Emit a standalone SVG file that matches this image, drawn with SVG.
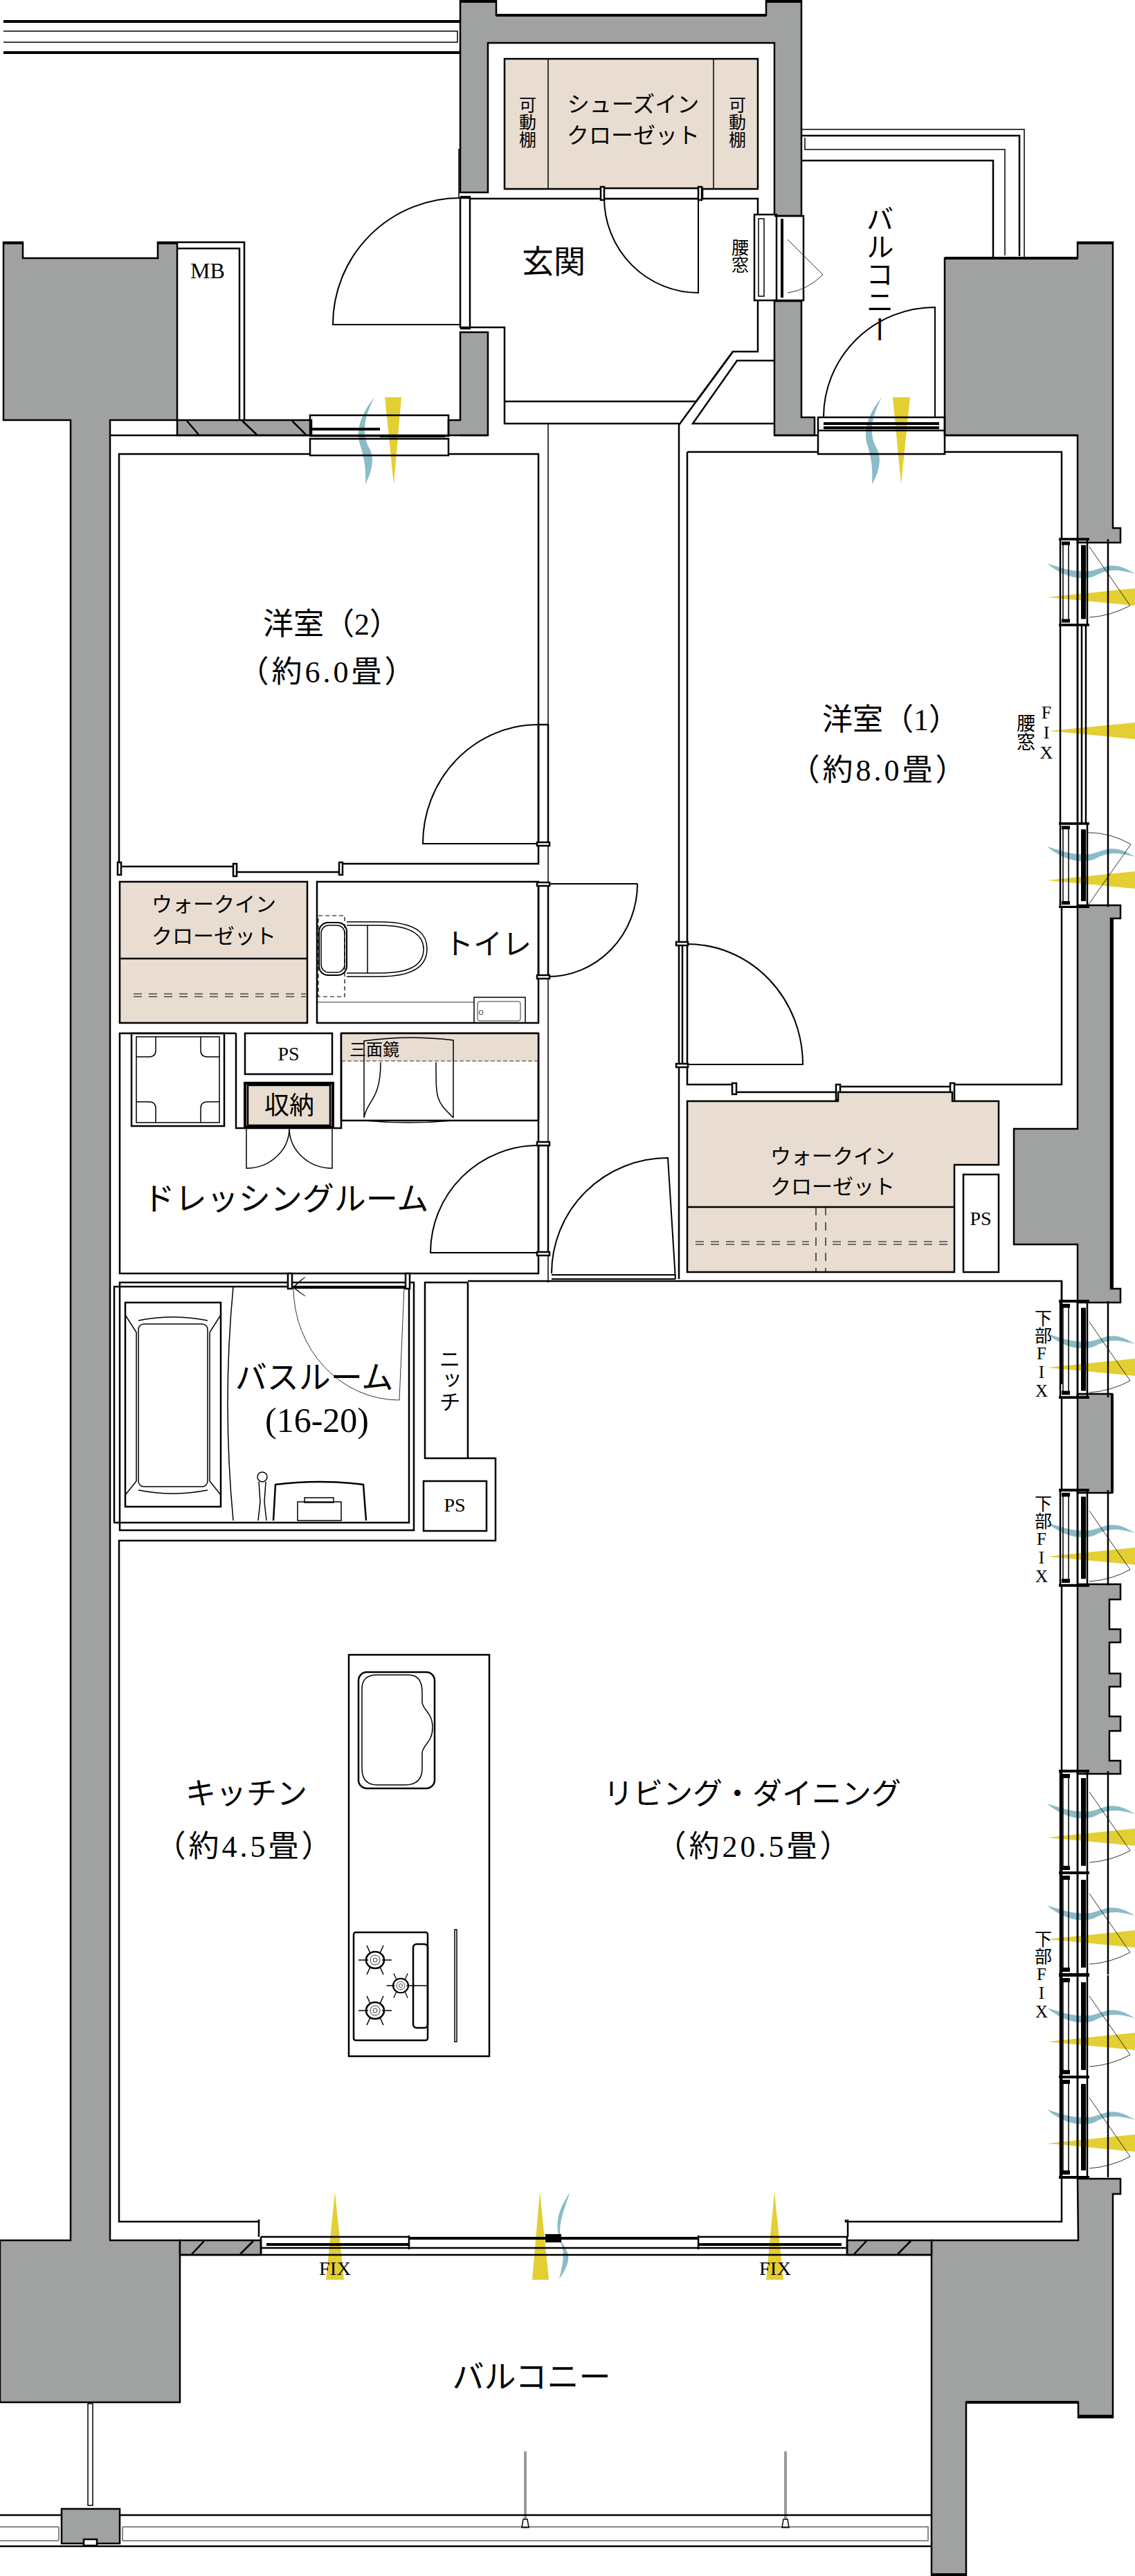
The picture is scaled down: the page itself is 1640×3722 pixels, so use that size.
<svg xmlns="http://www.w3.org/2000/svg" width="1640" height="3722" viewBox="0 0 1640 3722">
<style>
text{font-family:"Liberation Serif","Noto Sans CJK JP",serif;fill:#000;text-anchor:middle}
.v{writing-mode:vertical-rl;text-orientation:upright}
.g{fill:#a0a2a1;stroke:#000;stroke-width:2.5}
.c{fill:#e8ddd0;stroke:#000;stroke-width:2.5}
.w{fill:none;stroke:#000;stroke-width:2.5}
.k{fill:none;stroke:#000;stroke-width:4}
.m{fill:none;stroke:#000;stroke-width:1.5}
.t{fill:none;stroke:#000;stroke-width:.8}
.f{fill:#fff;stroke:#000;stroke-width:2.5}
.y{fill:#e3cf32}
.b{fill:#8abcc7}
.a{fill:none;stroke:#000;stroke-width:2}
.d{fill:none;stroke:#000;stroke-width:1.2;stroke-dasharray:12 10}
</style>
<defs>
<g id="flow">
<path class="b" d="M1513,47C1540,56 1555,60 1575,58C1595,55 1605,40 1640,62C1610,54 1600,56 1580,66C1560,72 1535,66 1513,47Z"/>
<path class="y" d="M1513,96L1640,83L1640,108Z"/>
</g>
<g id="win">
<rect class="w" x="1532" y="0" width="25" height="145"/>
<rect class="w" x="1557" y="0" width="14" height="145"/>
<rect x="1562" y="10" width="7" height="125" fill="#000"/>
<rect class="m" x="1536" y="8" width="8" height="129"/>
<rect x="1534" y="4" width="12" height="6" fill="#000"/>
<rect x="1534" y="135" width="12" height="6" fill="#000"/>
<path class="k" d="M1530,0H1574M1530,145H1574"/>
<path class="w" d="M1601,0V145"/>
</g>
<path id="swing" class="t" d="M1574,30L1633,115Q1605,130 1574,132"/>
<g id="burner">
<ellipse cx="0" cy="0" rx="13" ry="12" class="w"/>
<ellipse cx="0" cy="0" rx="7" ry="7" class="t"/>
<circle r="3" class="t"/>
<path class="m" d="M-24,0H-10M10,0H24M-12,-21L-7,-10M12,-21L7,-10M-12,21L-7,10M12,21L7,10"/>
</g>
</defs>

<g id="connectors"></g>

<g id="walls">
<polygon class="g" points="665,0 717,0 717,22 1107,22 1107,0 1158,0 1158,312 1119,312 1119,62 705,62 705,278 665,278"/>
<path class="k" d="M665,2H717M1107,2H1158M717,22H1107"/>
<polygon class="g" points="1119,435 1158,435 1158,603 1177,603 1177,629 1119,629"/>
<polygon class="g" points="665,480 705,480 705,629 648,629 648,607 665,607"/>
<polygon class="g" points="256,607 353,607 450,607 450,629 256,629"/>
<polygon class="g" points="5,350 33,350 33,373 228,373 228,350 256,350 256,607 159,607 159,3237 260,3237 260,3471 0,3471 0,3237 102,3237 102,607 5,607"/>
<path class="k" d="M5,351H33M228,351H256"/>
<polygon class="g" points="1365,373 1557,373 1557,350 1608,350 1608,763 1619,763 1619,784 1557,784 1557,629 1365,629"/>
<path class="k" d="M1557,351H1608M1365,373H1557"/>
<polygon class="g" points="1557,1308 1619,1308 1619,1327 1605,1327 1605,1862 1619,1862 1619,1882 1557,1882 1557,1798 1465,1798 1465,1631 1557,1631"/>
<polygon class="g" points="1557,2014 1607,2014 1607,2157 1557,2157"/>
<polygon class="g" points="1557,2289 1619,2289 1619,2311 1603,2311 1603,2354 1619,2354 1619,2373 1603,2373 1603,2418 1619,2418 1619,2437 1603,2437 1603,2480 1619,2480 1619,2501 1603,2501 1603,2544 1619,2544 1619,2563 1557,2563"/>
<polygon class="g" points="1557,3148 1619,3148 1619,3170 1608,3170 1608,3493 1558,3493 1558,3471 1396,3471 1396,3722 1346,3722 1346,3237 1558,3237"/>
<path class="k" d="M1396,3471H1558M1558,3491H1608M1346,3720H1396"/>
<path class="k" d="M1607,1327V1862M1607,2014V2157"/>
<polygon class="g" points="260,3237 377,3237 377,3258 260,3258"/>
<polygon class="g" points="1224,3237 1346,3237 1346,3258 1224,3258"/>
<path class="w" d="M277,3257L295,3238M347,3257L366,3238M1234,3257L1252,3238M1297,3257L1316,3238M270,608L287,628M350,608L371,628M422,608L442,628"/>
</g>

<g id="flows">
<use href="#flow" y="767"/>
<use href="#flow" y="1176"/>
<path class="y" d="M1516,1056L1640,1044L1640,1068Z"/>
<use href="#flow" y="1880"/>
<use href="#flow" y="2153"/>
<use href="#flow" y="2559"/>
<use href="#flow" y="2706"/>
<use href="#flow" y="2854"/>
<use href="#flow" y="3001"/>
<path class="y" d="M556,574H580L569,700Z"/>
<path class="b" d="M541,574C528,600 520,625 535,650C542,668 535,685 528,700C529,680 527,665 521,645C512,620 524,595 541,574Z"/>
<path class="y" d="M1290,574H1315L1302,700Z"/>
<path class="b" d="M1274,574C1261,600 1253,625 1268,650C1275,668 1268,685 1260,700C1261,680 1260,665 1254,645C1245,620 1257,595 1274,574Z"/>
<path class="y" d="M484,3167L497,3294H471Z"/>
<path class="y" d="M780,3167L793,3294H769Z"/>
<path class="y" d="M1119,3167L1132,3294H1107Z"/>
<path class="b" d="M824,3167C812,3200 805,3220 812,3240C822,3255 828,3265 808,3293C815,3265 815,3255 812,3245C800,3215 805,3195 824,3167Z"/>
</g>

<g id="linework">
<path class="k" d="M5,31H665M5,76H665"/>
<path class="m" d="M5,45H661V61H5"/>
<path class="m" d="M1158,187H1480V373"/>
<path class="w" d="M1158,196H1473V370"/>
<path class="m" d="M1163,199V216H1452V369"/>
<path class="w" d="M1158,232H1435V373"/>
<path class="w" d="M256,350H353V607M256,359H346V607"/>
<path class="m" d="M663,215V286"/>
<path class="w" d="M680,287H1095V508H1059L981,614V1848"/>
<path class="w" d="M680,473H729V612H981M729,580H1006"/>
<path class="w" d="M1059,508L1006,580"/>
<path class="w" d="M1119,521H1065L1001,612H1119"/>
<path class="w" d="M705,629H665M159,629H450M648,629H450"/>
<path class="w" d="M1365,629H1558M1119,629H1182"/>
<path class="m" d="M792,612V1853"/>
</g>

<g id="shoe-closet">
<rect class="c" x="729" y="85" width="366" height="188"/>
<path class="m" d="M792,85V273M1031,85V273"/>
<rect class="f" x="869" y="272" width="146" height="15"/>
<rect class="f" x="868" y="270" width="5" height="19"/>
<rect class="f" x="1009" y="270" width="5" height="19"/>
<text x="915" y="162" font-size="32">シューズイン</text>
<text x="915" y="207" font-size="32">クローゼット</text>
<text class="v" x="760" y="176" font-size="25">可動棚</text>
<text class="v" x="1063" y="176" font-size="25">可動棚</text>
</g>

<g id="entry">
<rect class="w" x="665" y="286" width="14" height="187"/>
<path class="k" d="M665,285H680M665,474H680"/>
<path class="a" d="M665,286A184,183 0 0 0 481,469H665"/>
<path class="a" d="M873,286A136,137 0 0 0 1009,423V286"/>
<text x="800" y="394" font-size="46">玄関</text>
<text x="1067" y="370" class="v" font-size="25">腰窓</text>
<rect class="f" x="1090" y="310" width="32" height="124"/>
<rect class="m" x="1096" y="316" width="8" height="112"/>
<path class="k" d="M1130,316V430"/>
<path class="w" d="M1119,312H1161V434H1119"/>
<path class="t" d="M1138,346L1189,397Q1165,420 1138,423"/>
<text x="275" y="402" style="text-anchor:start" font-size="32">MB</text>
</g>

<g id="balcony-top">
<path class="a" d="M1351,603V444A161,159 0 0 0 1190,603"/>
<rect class="w" x="1182" y="603" width="183" height="53"/>
<path class="k" d="M1190,612H1357M1190,618H1357"/>
<text class="v" x="1268" y="396" font-size="40">バルコニー</text>
<path class="w" d="M1182,622H1365"/>
</g>

<g id="room-2">
<path class="w" d="M448,656H172V1252H339M648,656H778V1219"/>
<path class="w" d="M342,1260H492M492,1248H778V1219"/>
<rect class="f" x="170" y="1246" width="5" height="18"/><rect class="f" x="337" y="1248" width="5" height="18"/><rect class="f" x="490" y="1246" width="5" height="18"/>
<path class="a" d="M778,1047A167,172 0 0 0 611,1219H778"/>
<rect class="w" x="778" y="1047" width="14" height="172"/>
<text x="479" y="917" font-size="44">洋室（2）</text>
<text x="474" y="986" font-size="44" letter-spacing="4">（約6.0畳）</text>
</g>

<g id="window-2">
<rect class="w" x="448" y="600" width="200" height="30"/>
<path class="k" d="M450,620H549M549,630H643"/>
<rect class="w" x="448" y="634" width="200" height="24"/>
</g>

<g id="room-1">
<path class="w" d="M993,653V1567H1060M1182,653H993M1365,653H1534V779M1534,1310V1567H1376"/>
<path class="w" d="M1060,1578H1211M1211,1570H1376"/>
<rect class="f" x="1058" y="1565" width="6" height="16"/><rect class="f" x="1208" y="1567" width="6" height="22"/><rect class="f" x="1373" y="1565" width="6" height="26"/>
<path class="a" d="M993,1364A167,174 0 0 1 1160,1538H993"/>
<path class="w" d="M986,1364V1538"/>
<rect x="977" y="1361" width="17" height="5" class="f"/><rect x="977" y="1537" width="17" height="5" class="f"/>
<text x="1287" y="1055" font-size="44">洋室（1）</text>
<text x="1270" y="1128" font-size="44" letter-spacing="4">（約8.0畳）</text>
</g>

<g id="wic-1">
<polygon class="c" points="993,1591 1211,1591 1211,1578 1376,1578 1376,1591 1443,1591 1443,1683 1379,1683 1379,1838 993,1838"/>
<path class="w" d="M993,1744H1379"/>
<path class="d" d="M1005,1794H1169M1203,1794H1370M1005,1798H1169M1203,1798H1370M1179,1744V1838M1193,1744V1838"/>
<text x="1203" y="1681" font-size="30">ウォークイン</text>
<text x="1203" y="1725" font-size="30">クローゼット</text>
<rect class="w" x="1392" y="1697" width="51" height="141"/>
<text x="1417" y="1770" font-size="28">PS</text>
</g>

<g id="wic-2">
<rect class="c" x="173" y="1274" width="271" height="204"/>
<path class="w" d="M173,1385H444"/>
<path class="d" d="M193,1436H442M193,1440H442"/>
<text x="309" y="1317" font-size="30">ウォークイン</text>
<text x="309" y="1363" font-size="30">クローゼット</text>
</g>

<g id="toilet">
<rect class="w" x="458" y="1274" width="320" height="204"/>
<rect class="d" x="460" y="1323" width="38" height="117" style="stroke-dasharray:6 4"/>
<rect class="a" x="461" y="1333" width="40" height="76" rx="13"/>
<rect class="m" x="464" y="1337" width="34" height="68" rx="11"/>
<path class="m" d="M501,1332H548C610,1332 617,1355 617,1371C617,1390 605,1411 548,1411H501"/>
<path class="m" d="M501,1337H548C600,1337 612,1355 612,1371C612,1390 600,1406 548,1406H501M531,1337V1406"/>
<path class="t" d="M458,1448H685"/>
<rect class="m" x="685" y="1441" width="74" height="37"/>
<rect class="t" x="690" y="1447" width="62" height="28" rx="3"/>
<circle class="t" cx="695" cy="1463" r="3"/>
<text x="705" y="1379" font-size="42">トイレ</text>
<rect class="w" x="778" y="1277" width="14" height="134"/>
<path class="a" d="M921,1277A129,134 0 0 1 792,1411M792,1277H921"/>
</g>

<g id="dressing">
<path class="w" d="M341,1493H173V1840H778V1493H493V1630H341V1493"/>
<rect class="w" x="354" y="1493" width="126" height="59"/>
<text x="417" y="1532" font-size="28">PS</text>
<rect class="c" x="354" y="1565" width="127" height="64" style="stroke-width:4"/>
<rect class="w" x="358" y="1568" width="119" height="58"/>
<text x="418" y="1610" font-size="36">収納</text>
<path class="m" d="M356,1630V1688A62,58 0 0 0 418,1630A62,58 0 0 0 480,1688V1630"/>
<rect class="w" x="190" y="1493" width="134" height="134"/>
<rect class="m" x="197" y="1498" width="120" height="124"/>
<path class="m" d="M225,1498V1518Q225,1527 215,1527H197M290,1498V1518Q290,1527 300,1527H317M225,1622V1601Q225,1592 215,1592H197M290,1622V1601Q290,1592 300,1592H317"/>
<rect x="493" y="1493" width="285" height="40" fill="#e8ddd0"/>
<path class="w" d="M493,1493H778M493,1493V1619H778M778,1493V1619"/>
<path class="t" d="M493,1533H778" stroke-dasharray="6 3"/>
<path class="m" d="M526,1615V1504Q590,1495 655,1503V1615M526,1615C530,1590 550,1590 550,1535M655,1615C630,1590 630,1590 630,1535M526,1619Q590,1625 655,1619"/>
<text x="541" y="1525" font-size="24">三面鏡</text>
<text x="413" y="1748" font-size="46">ドレッシングルーム</text>
<rect class="w" x="778" y="1655" width="14" height="155"/>
<path class="a" d="M778,1655A156,155 0 0 0 622,1810H778"/>
<path class="a" d="M797,1840A168,167 0 0 1 965,1673L976,1848M797,1842H976M797,1848H976"/>
<rect class="f" x="776" y="1217" width="18" height="5"/>
<rect class="f" x="776" y="1275" width="18" height="5"/>
<rect class="f" x="776" y="1409" width="18" height="5"/>
<rect class="f" x="776" y="1650" width="18" height="5"/>
<rect class="f" x="776" y="1809" width="18" height="5"/>
</g>

<g id="bath">
<rect class="w" x="173" y="1853" width="425" height="358"/>
<rect class="w" x="165" y="1859" width="426" height="341"/>
<path class="m" d="M337,1859Q321,2027 337,2197"/>
<rect class="w" x="181" y="1882" width="138" height="295"/>
<rect class="m" x="200" y="1913" width="100" height="235" rx="8"/>
<path class="m" d="M181,1892V1900L197,1925V2140L181,2160V2170M319,1892V1900L303,1925V2140L319,2160V2170M200,1908Q250,1898 300,1908M200,2153Q250,2163 300,2153"/>
<path class="k" d="M424,1860H590"/>
<rect class="f" x="416" y="1840" width="6" height="22"/><rect class="f" x="586" y="1840" width="6" height="22"/>
<path class="m" d="M424,1860Q440,1845 441,1846M424,1860Q440,1873 441,1872"/>
<path class="t" d="M424,1860A153,163 0 0 0 577,2023L584,1860"/>
<path class="w" d="M395,2197L398,2145Q462,2137 525,2145L529,2197"/>
<rect class="m" x="430" y="2170" width="63" height="27"/>
<rect class="m" x="440" y="2164" width="42" height="7"/>
<circle class="m" cx="379" cy="2134" r="7"/>
<path class="m" d="M374,2141L376,2170L373,2197M384,2141L382,2170L385,2197"/>
<text x="454" y="2006" font-size="46">バスルーム</text>
<text x="458" y="2069" font-size="50">(16-20)</text>
</g>

<g id="niche">
<path class="w" d="M676,1853H614V2107H676M676,1853V2107"/>
<text class="v" x="647" y="1994" font-size="31">ニッチ</text>
<rect class="w" x="612" y="2140" width="91" height="72"/>
<text x="657" y="2184" font-size="28">PS</text>
</g>

<g id="ldk">
<path class="w" d="M676,1851H1534V2000M676,2107H716V2226H172V3210H374V3207M1222,3207V3210H1534V2560"/>
<path class="w" d="M374,3207V3232M1225,3207V3232"/>
<text x="356" y="2607" font-size="44">キッチン</text>
<text x="354" y="2683" font-size="44" letter-spacing="4">（約4.5畳）</text>
<text x="1087" y="2607" font-size="43">リビング・ダイニング</text>
<text x="1090" y="2683" font-size="44" letter-spacing="4">（約20.5畳）</text>
</g>

<g id="kitchen">
<rect class="w" x="504" y="2391" width="203" height="580"/>
<rect class="w" x="518" y="2416" width="110" height="168" rx="12"/>
<path class="m" d="M523,2440Q523,2420 545,2420H590Q610,2420 610,2445V2460C612,2472 625,2475 625,2496C625,2517 612,2520 610,2532V2555Q610,2579 585,2579H545Q523,2579 523,2555Z"/>
<rect class="w" x="511" y="2792" width="107" height="156" rx="3"/>
<rect class="w" x="597" y="2809" width="21" height="121" rx="5"/>
<path class="m" d="M597,2869H618"/>
<use href="#burner" x="542" y="2832"/>
<use href="#burner" x="542" y="2905"/>
<use href="#burner" transform="translate(579,2869) scale(.85)"/>
<rect class="m" x="657" y="2788" width="3" height="162"/>
</g>

<g id="windows">
<use href="#win" transform="translate(0,779) scale(1,.855)"/>
<rect class="w" x="1532" y="903" width="25" height="287"/>
<path class="w" d="M1563,903V1190M1569,903V1190M1601,903V1190M1557,903V1190"/>
<use href="#win" transform="translate(0,1190) scale(1,.83)"/>
<use href="#swing" y="760"/>
<path class="t" d="M1572,1203Q1605,1203 1634,1220L1572,1308"/>
<use href="#win" transform="translate(0,1880) scale(1,.96)"/>
<use href="#win" transform="translate(0,2153) scale(1,.95)"/>
<use href="#win" transform="translate(0,2559) scale(1,1.014)"/>
<use href="#win" transform="translate(0,2706) scale(1,1.014)"/>
<use href="#win" transform="translate(0,2854) scale(1,1.014)"/>
<use href="#win" transform="translate(0,3001) scale(1,1)"/>
<use href="#swing" y="1880"/>
<use href="#swing" y="2153"/>
<use href="#swing" y="2559"/>
<use href="#swing" y="2706"/>
<use href="#swing" y="2854"/>
<use href="#swing" y="3001"/>
<path class="w" d="M1534,2019V2153M1534,2291V2559M1557,2019V2014M1534,1880V1851"/>
<text class="v" x="1512" y="1058" font-size="26">FIX</text>
<text class="v" x="1480" y="1058" font-size="27">腰窓</text>
<text class="v" x="1505" y="1957" font-size="25">下部FIX</text>
<text class="v" x="1505" y="2225" font-size="25">下部FIX</text>
<text class="v" x="1505" y="2854" font-size="25">下部FIX</text>
</g>

<g id="sash">
<path class="w" d="M377,3232H591M1009,3232H1224M377,3248H1224M260,3258H1346"/>
<path class="k" d="M385,3243H591M591,3234H1009M1009,3243H1216"/>
<path class="w" d="M377,3232V3258M1224,3232V3258M591,3230V3250M1009,3230V3250"/>
<rect x="788" y="3228" width="23" height="12" fill="#000"/>
<text x="484" y="3287" font-size="28" textLength="46" lengthAdjust="spacingAndGlyphs">FIX</text>
<text x="1120" y="3287" font-size="28" textLength="46" lengthAdjust="spacingAndGlyphs">FIX</text>
</g>

<g id="balcony">
<text x="768" y="3450" font-size="46">バルコニー</text>
<rect class="m" x="127" y="3473" width="7" height="147"/>
<path class="w" d="M0,3634H89M173,3634H1346M0,3679H1346"/>
<path fill="none" stroke="#888" stroke-width="2" d="M0,3651H85M177,3651H1341V3671H177M85,3671H0M85,3651V3671M177,3651V3671"/>
<rect class="g" x="89" y="3625" width="84" height="50"/>
<rect class="f" x="121" y="3669" width="19" height="9"/>
<path class="t" d="M758,3542V3640M760,3542V3640M1134,3542V3640M1136,3542V3640"/>
<path class="m" d="M756,3640H762L764,3652H754ZM1132,3640H1138L1140,3652H1130Z"/>
</g>
</svg>
